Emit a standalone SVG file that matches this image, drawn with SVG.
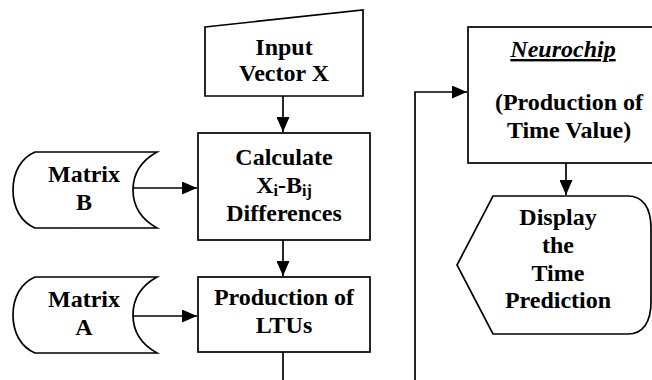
<svg xmlns="http://www.w3.org/2000/svg" width="652" height="380" viewBox="0 0 652 380">
  <style>
    .shape { fill: #ffffff; stroke: #000000; stroke-width: 1.7; }
    .link { fill: none; stroke: #000000; stroke-width: 1.7; }
    .label { font-family: 'Liberation Serif', 'Times New Roman', serif; font-weight: bold; font-size: 24px; fill: #000000; text-anchor: middle; }
    .sub { font-size: 16px; }
  </style>
  <defs>
    <marker id="arrow" viewBox="0 0 15 13" refX="15" refY="6.5" markerWidth="15" markerHeight="13" markerUnits="userSpaceOnUse" orient="auto">
      <path d="M0,0 L15,6.5 L0,13 Z" fill="#000000"/>
    </marker>
  </defs>
  <rect width="652" height="380" fill="#ffffff"/>

  <!-- connectors -->
  <g id="connectors">
    <path class="link" d="M283,96 L283,132" marker-end="url(#arrow)"/>
    <path class="link" d="M283,240 L283,276" marker-end="url(#arrow)"/>
    <path class="link" d="M133,188 L197,188" marker-end="url(#arrow)"/>
    <path class="link" d="M133,316 L197,316" marker-end="url(#arrow)"/>
    <path class="link" d="M283,352 L283,380"/>
    <path class="link" d="M415,380 L415,92 L467,92" marker-end="url(#arrow)"/>
    <path class="link" d="M566,163 L566,195" marker-end="url(#arrow)"/>
  </g>

  <!-- manual input -->
  <g id="input-vector">
    <polygon class="shape" points="205,27 363,10 363,96 205,96"/>
    <text class="label" x="284" y="55">Input</text>
    <text class="label" x="284" y="81">Vector X</text>
  </g>

  <!-- difference step -->
  <g id="calculate">
    <rect class="shape" x="198" y="133" width="172" height="107"/>
    <text class="label" x="284" y="165">Calculate</text>
    <text class="label" x="284" y="193">X<tspan class="sub" dy="3">i</tspan><tspan dy="-3">-B</tspan><tspan class="sub" dy="3">ij</tspan></text>
    <text class="label" x="284" y="221">Differences</text>
  </g>

  <!-- LTU step -->
  <g id="production-ltus">
    <rect class="shape" x="198" y="277" width="172" height="75"/>
    <text class="label" x="284" y="305">Production of</text>
    <text class="label" x="284" y="333">LTUs</text>
  </g>

  <!-- stored data: matrix B -->
  <g id="matrix-b">
    <path class="shape" d="M35,152 L157,152 C139,162 133,175 133,190 C133,205 139,218 157,228 L35,228 C21,222 13,208 13,190 C13,172 21,158 35,152 Z"/>
    <text class="label" x="84" y="182">Matrix</text>
    <text class="label" x="84" y="210">B</text>
  </g>

  <!-- stored data: matrix A -->
  <g id="matrix-a">
    <path class="shape" d="M35,277 L157,277 C139,287 133,300 133,315 C133,330 139,343 157,353 L35,353 C21,347 13,333 13,315 C13,297 21,283 35,277 Z"/>
    <text class="label" x="84" y="307">Matrix</text>
    <text class="label" x="84" y="335">A</text>
  </g>

  <!-- neurochip -->
  <g id="neurochip">
    <rect class="shape" x="468" y="27" width="200" height="136"/>
    <text class="label" x="563" y="57" font-style="italic" text-decoration="underline">Neurochip</text>
    <text class="label" x="569" y="110">(Production of</text>
    <text class="label" x="569" y="138">Time Value)</text>
  </g>

  <!-- display -->
  <g id="display">
    <path class="shape" d="M493,196 L628,196 C643,196 651,208 651,228 L651,302 C651,322 643,334 628,334 L493,334 L457,265 Z"/>
    <text class="label" x="558" y="225">Display</text>
    <text class="label" x="558" y="253">the</text>
    <text class="label" x="558" y="281">Time</text>
    <text class="label" x="558" y="308">Prediction</text>
  </g>
</svg>
